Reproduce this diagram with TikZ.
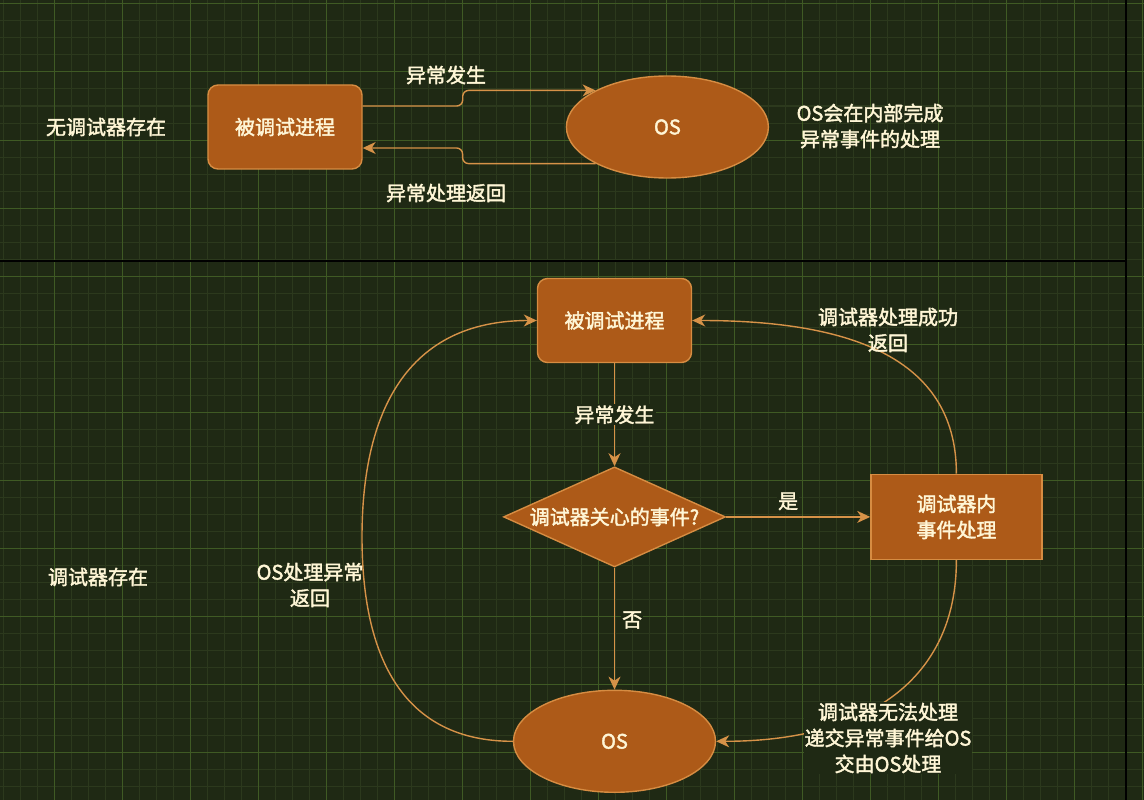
\documentclass[tikz,border=0pt]{standalone}
\usepackage{fontspec}
\setmainfont{Noto Sans CJK SC}[RawFeature={embolden=2}]
\usetikzlibrary{arrows.meta,positioning,shapes.geometric}
\definecolor{canvas}{RGB}{31,41,20}
\definecolor{gridthin}{RGB}{44,57,29}
\definecolor{gridthick}{RGB}{63,90,36}
\definecolor{boxfill}{RGB}{173,90,24}
\definecolor{boxline}{RGB}{214,140,66}
\definecolor{wire}{RGB}{214,146,72}
\definecolor{ink}{RGB}{255,246,214}
\newcommand{\labelfont}{\fontsize{20}{26}\selectfont}

\begin{document}
\begin{tikzpicture}[
  x=1pt, y=-1pt,
  node distance=100pt,
  proc/.style={draw=boxline, line width=1.4pt, rounded corners=10pt, fill=boxfill,
    minimum width=154pt, minimum height=84pt, inner sep=0pt,
    font=\labelfont, text=ink, align=center},
  sys/.style={ellipse, draw=boxline, line width=1.4pt, fill=boxfill,
    minimum width=202pt, minimum height=102pt, inner sep=0pt,
    font=\labelfont, text=ink},
  decide/.style={diamond, aspect=2.22, draw=boxline, line width=1.4pt, fill=boxfill,
    minimum width=222pt, minimum height=100pt, inner sep=0pt,
    font=\labelfont, text=ink},
  handler/.style={draw=boxline, line width=1.4pt, fill=boxfill,
    minimum width=171pt, minimum height=85pt, inner sep=0pt,
    font=\labelfont, text=ink, align=center},
  arr/.style={-{Stealth[length=13pt,width=12pt,inset=4pt]}, line width=1.4pt, color=wire},
  lbl/.style={font=\labelfont, text=ink, fill=canvas, inner sep=1pt, align=center},
  note/.style={font=\labelfont, text=ink, align=center},
  finegrid/.style={gridthin, line width=1pt},
  boldgrid/.style={gridthick, line width=1pt},
  divider/.style={black, line width=2pt}
]
\useasboundingbox (0,0) rectangle (1144,800);
\fill[canvas] (0,0) rectangle (1144,800);
% grid
\foreach \gx in {3,20,...,1144} \draw[finegrid] (\gx,0) -- (\gx,800);
\foreach \gy in {4,21,...,800} \draw[finegrid] (0,\gy) -- (1144,\gy);
\foreach \gx in {54,122,...,1144} \draw[boldgrid] (\gx,0) -- (\gx,800);
\foreach \gy in {4,72,...,800} \draw[boldgrid] (0,\gy) -- (1144,\gy);
\draw[divider] (0,261) -- (1126,261);
\draw[divider] (1126,0) -- (1126,800);

% without debugger
\node[proc] (p1) at (285,127) {被调试进程};
\node[sys, right=203pt of p1] (os1) {OS};
\draw[arr, rounded corners=6pt] ([yshift=21pt]p1.east) -- ++(100,0) |- (os1.153);
\draw[arr, rounded corners=6pt] (os1.207) -- ++(-133,0) |- ([yshift=-21pt]p1.east);
\node[note] (raise1) at (446,75) {异常发生};
\node[note] (back1) at (446,193) {异常处理返回};
\node[note] (nodbg) at (106,127) {无调试器存在};
\node[note] (osnote) at (870,126) {OS会在内部完成\\异常事件的处理};

% with debugger
\node[proc] (p2) at (614.5,320.5) {被调试进程};
\node[decide, below=103pt of p2] (ask) {调试器关心的事件?};
\node[handler, right=144pt of ask] (dbg) {调试器内\\事件处理};
\node[sys, below=122pt of ask] (os2) {OS};
\draw[arr] (p2) -- node[lbl] {异常发生} (ask);
\draw[arr] (ask) -- node[lbl, pos=0.43, above=5pt] {是} (dbg);
\draw[arr] (ask) -- node[lbl, pos=0.43, right=6pt] {否} (os2);
\draw[arr] (dbg.north) .. controls +(0,-120) and +(150,0) .. (p2.east);
\draw[arr] (dbg.south) .. controls +(0,120) and +(150,0) .. (os2.east);
\coordinate (loopL) at (362,537);
\draw[arr] (os2.west) .. controls +(-110,0) and +(0,120) .. (loopL)
  .. controls +(0,-125) and +(-130,0) .. (p2.west);
\node[note] (okret) at (888,330) {调试器处理成功\\返回};
\node[lbl] (failret) at (888,738) {调试器无法处理\\递交异常事件给OS\\交由OS处理};
\node[note] (osret) at (310,585) {OS处理异常\\返回};
\node[note] (withdbg) at (98,577) {调试器存在};
\end{tikzpicture}
\end{document}
